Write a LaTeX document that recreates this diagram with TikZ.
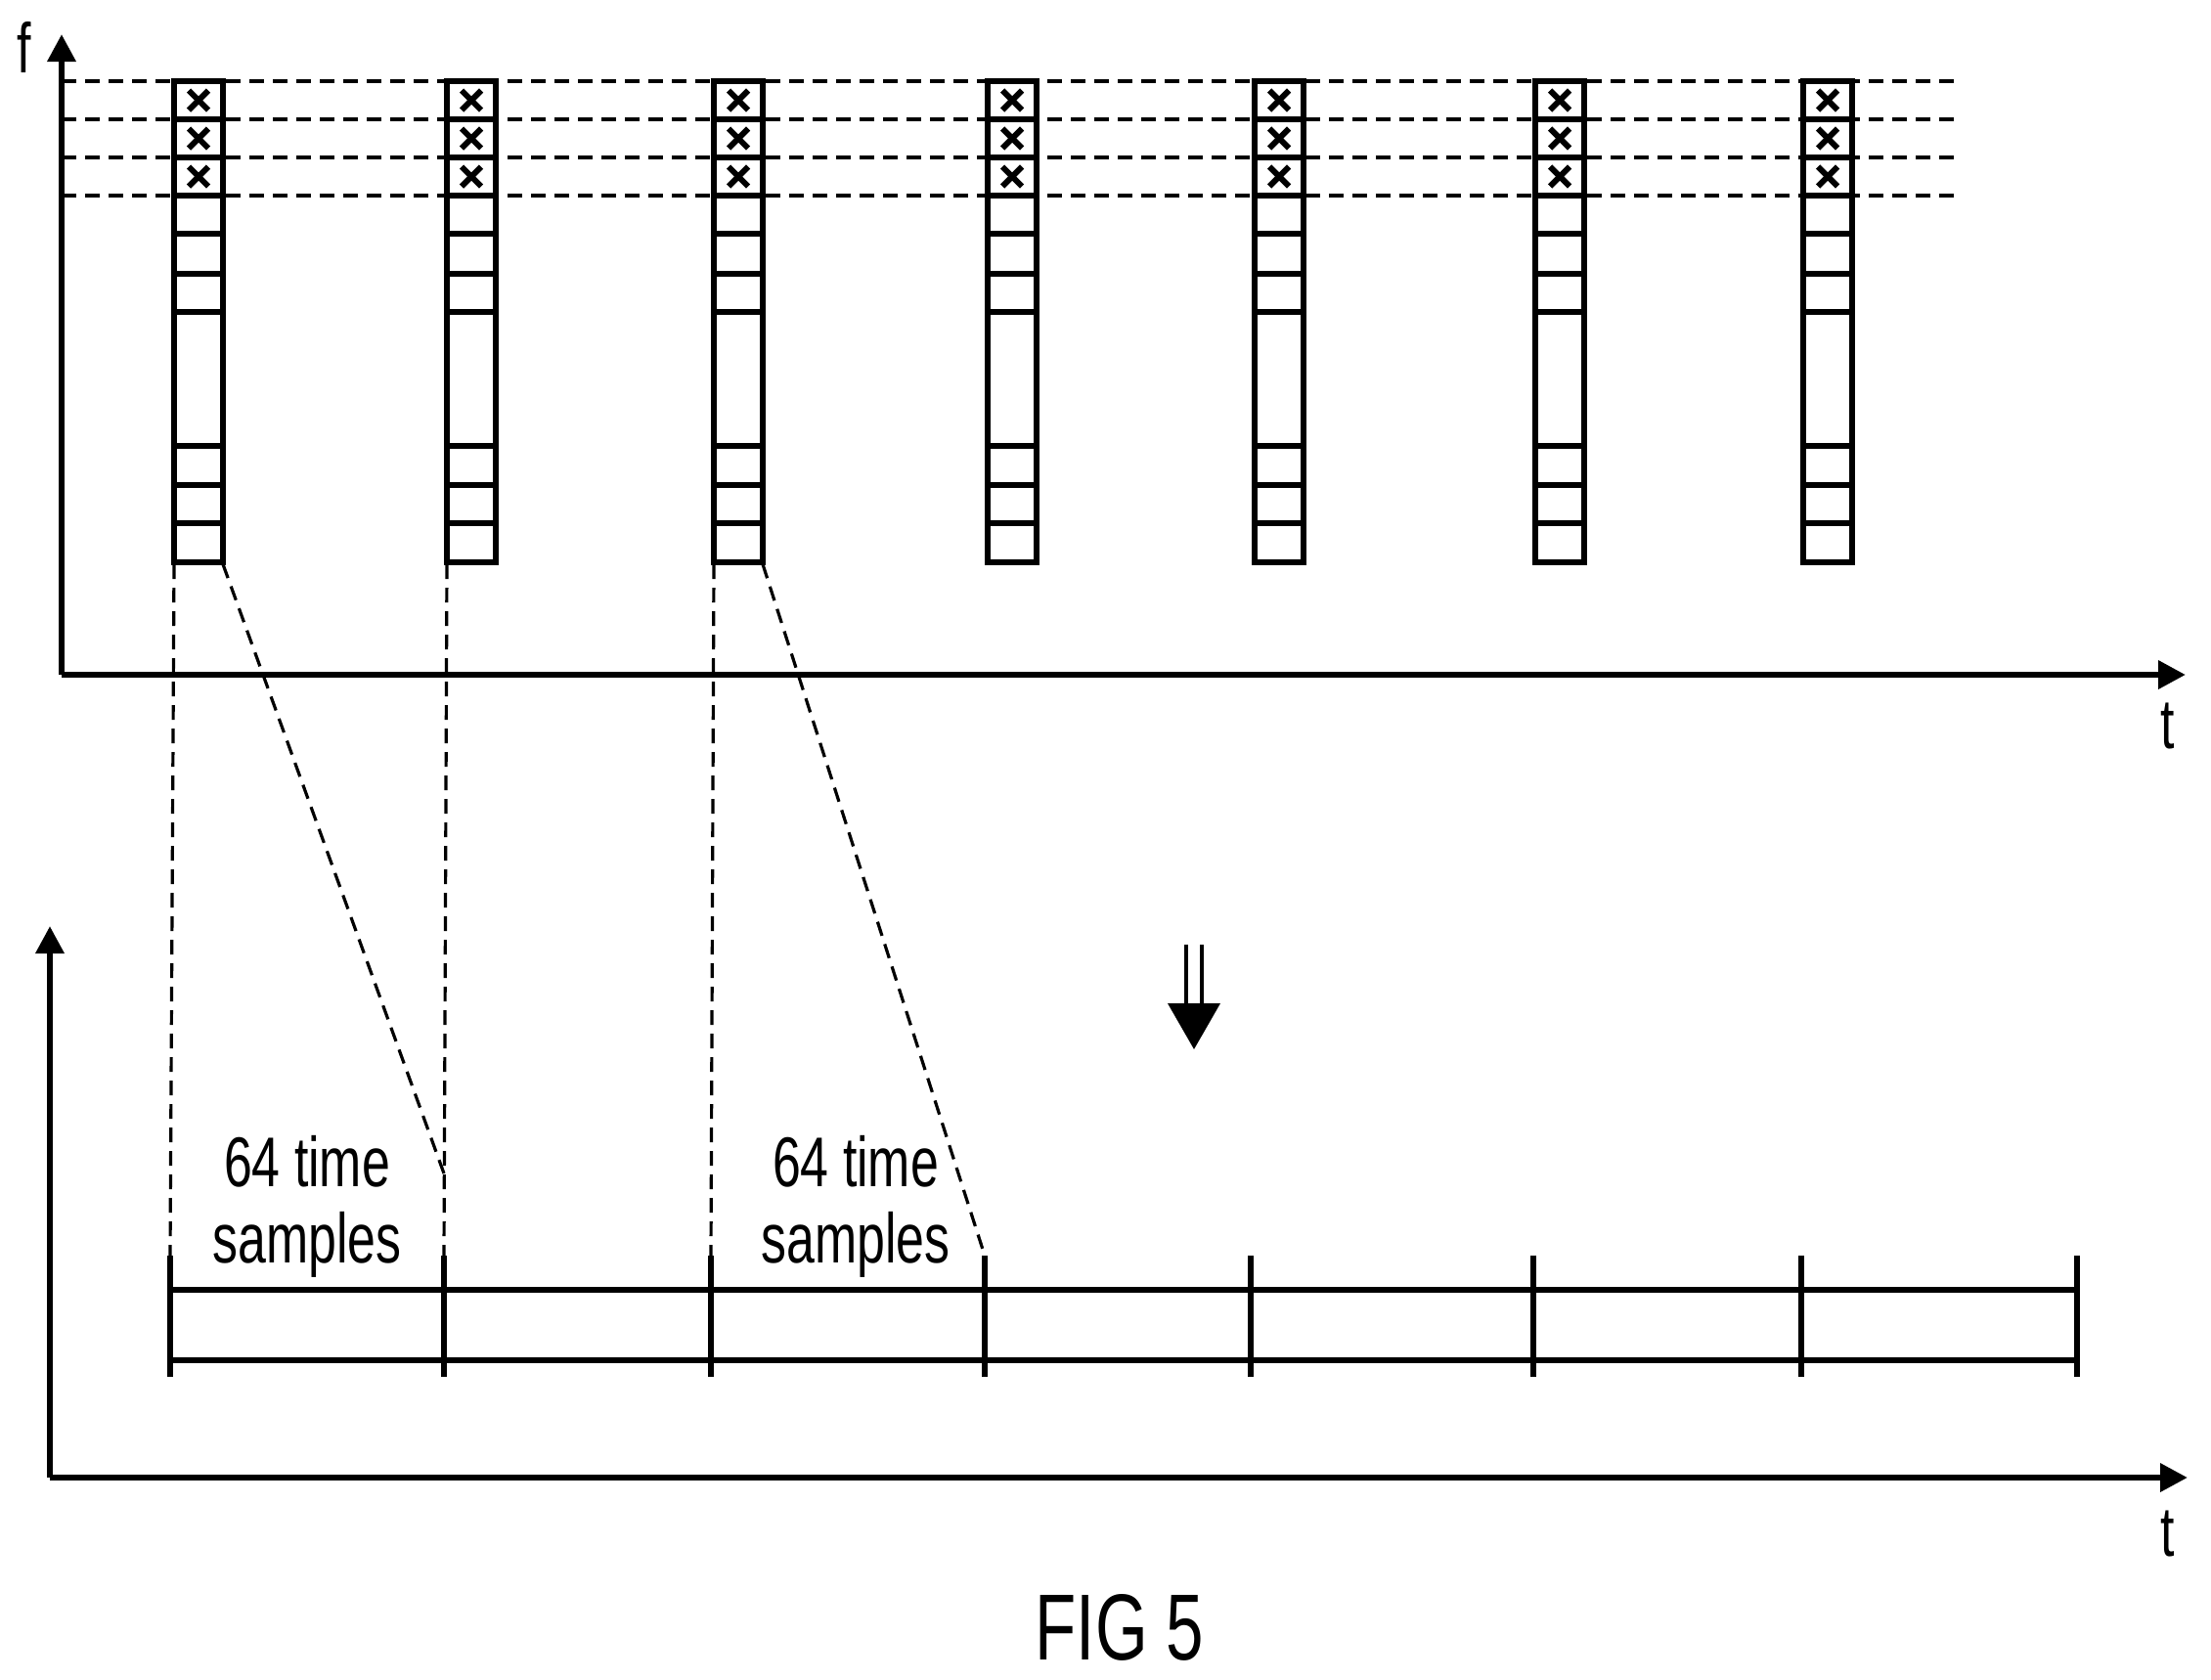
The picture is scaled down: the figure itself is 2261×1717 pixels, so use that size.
\documentclass[tikz,border=0pt]{standalone}
\usepackage{fontspec}
\setmainfont[FakeStretch=0.72]{Liberation Sans}
\usetikzlibrary{arrows.meta}
\begin{document}
\begin{tikzpicture}[x=1pt,y=-1pt,
  thick/.style={line width=6.5pt},
  dsh/.style={line width=3.2pt,dash pattern=on 15pt off 9pt},
  ax/.style={line width=6.5pt,-{Triangle[width=28pt,length=28pt]}},
  lbl/.style={font=\fontsize{72}{78}\selectfont,align=center}]
\useasboundingbox (0,0) rectangle (2261,1717);
% top axes
\coordinate (o1) at (63,690);
\coordinate (fy) at (63,35);
\coordinate (tx1) at (2235,690);
\draw[ax] (o1) -- (fy);
\draw[ax] (o1) -- (tx1);
\node[lbl] (f) at (25,48) {f};
\node[lbl] (t1) at (2217,742) {t};
% dashed horizontal lines
\foreach \y in {83,122,161,200} \draw[dsh] (63,\y) -- (2003,\y);
% columns
\foreach \c/\n in {203/1,482/2,755/3,1035/4,1308/5,1595/6,1869/7}{
  \draw[thick] (\c-25,83) rectangle (\c+25,575);
  \foreach \y in {122,161,200,239,280,319,456,496,535} \draw[thick] (\c-25,\y) -- (\c+25,\y);
  \foreach \y in {102.5,141.5,180.5}{
    \draw[line width=6pt] (\c-10,\y-10) -- (\c+10,\y+10);
    \draw[line width=6pt] (\c-10,\y+10) -- (\c+10,\y-10);}
  \coordinate (bl\n) at (\c-25,577);
  \coordinate (br\n) at (\c+25,577);
}
% bottom axes
\coordinate (o2) at (51,1511);
\draw[ax] (o2) -- (51,947);
\draw[ax] (o2) -- (2237,1511);
\node[lbl] (t2) at (2217,1568) {t};
% bar
\draw[thick] (174,1319) -- (2124,1319);
\draw[thick] (174,1391) -- (2124,1391);
\foreach \x/\n in {174/1,454/2,727/3,1007/4,1279/5,1568/6,1842/7,2124/8}{
  \draw[thick] (\x,1284) -- (\x,1408);
  \coordinate (tk\n) at (\x,1284);}
% dashed connectors
\coordinate (d1) at (454,1200);
\draw[dsh] (bl1) -- (tk1);
\draw[dsh] (br1) -- (d1);
\draw[dsh] (bl2) -- (tk2);
\draw[dsh] (bl3) -- (tk3);
\draw[dsh] (br3) -- (tk4);
\node[lbl] (s1) at (314,1234) {64 time\\samples};
\node[lbl] (s2) at (875,1234) {64 time\\samples};
% double arrow
\draw[line width=4pt] (1213,966) -- (1213,1030);
\draw[line width=4pt] (1229,966) -- (1229,1030);
\fill (1194,1026) -- (1248,1026) -- (1221,1073) -- cycle;
\node[font=\fontsize{96}{100}\selectfont] (fig) at (1145,1664) {FIG 5};
\end{tikzpicture}
\end{document}
